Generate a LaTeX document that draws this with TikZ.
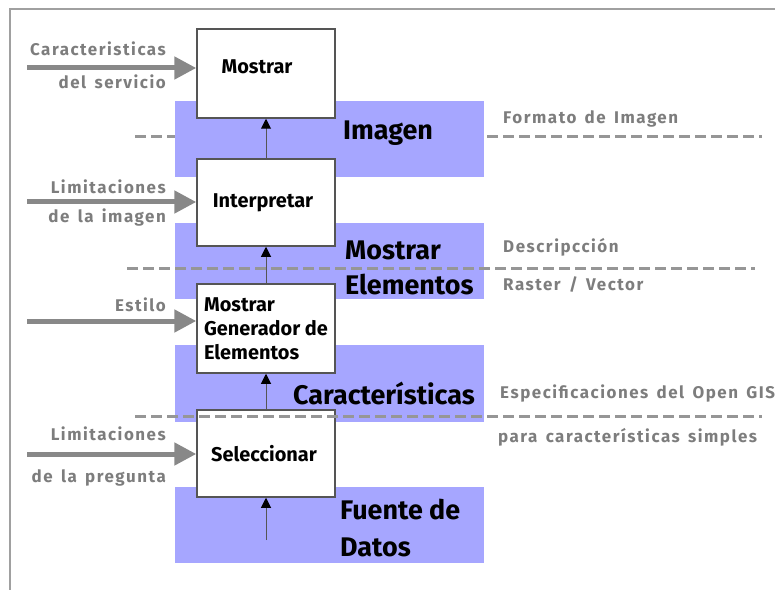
\documentclass[tikz,border=0pt]{standalone}
\usepackage{fontspec}
\setmainfont{Fira Sans}
\newfontfamily\sidefont{Fira Sans}[LetterSpace=9,WordSpace=1.5]
\usetikzlibrary{arrows.meta}
\definecolor{bandblue}{RGB}{166,166,255}
\definecolor{labelgray}{RGB}{125,125,125}
\definecolor{arrowgray}{RGB}{136,136,136}
\definecolor{dashgray}{RGB}{150,150,150}
\definecolor{boxline}{RGB}{85,85,85}
\definecolor{framegray}{RGB}{160,160,160}
\tikzset{
  stagebox/.style={draw=boxline, line width=1.5bp, fill=white, minimum width=138bp, inner sep=0pt, font=\fontsize{20}{24}\selectfont\bfseries, align=left},
  band/.style={fill=bandblue},
  bandlabel/.style={anchor=west, inner sep=0pt, font=\fontsize{27}{30}\selectfont\bfseries},
  sidelabel/.style={inner sep=0pt, text=labelgray, font=\sidefont\fontsize{17}{20}\selectfont\bfseries},
  sepline/.style={draw=dashgray, line width=3bp, dash pattern=on 11bp off 5bp},
  flow/.style={draw=boxline, line width=1bp, -{Triangle[length=10bp,width=10bp,color=black]}},
  inflow/.style={draw=arrowgray, line width=5bp, -{Triangle[length=22bp,width=22bp]}}
}
\begin{document}
\begin{tikzpicture}[x=1bp,y=-1bp]
\useasboundingbox (0,0) rectangle (775,590);
% frame
\draw[framegray, line width=2bp] (775,9) -- (10,9) -- (10,590);
% dashed line behind first band
\coordinate (d1a) at (135,137);
\coordinate (d1b) at (762,137);
\draw[sepline] (d1a) -- (d1b);
% bands
\fill[band] (175,101) rectangle (484,177);
\fill[band] (175,223) rectangle (484,299);
\fill[band] (175,345) rectangle (484,422);
\fill[band] (175,487) rectangle (484,563);
% band labels
\node[bandlabel] (limagen) at (343,133) {Imagen};
\node[bandlabel] (lmostrar) at (345,250) {Mostrar};
\node[bandlabel] (lelem) at (345,285) {Elementos};
\node[bandlabel] (lcarac) at (293,393) {Características};
\node[bandlabel] (lfuente) at (340,510) {Fuente de};
\node[bandlabel] (ldatos) at (340,547) {Datos};
% second dashed line
\coordinate (d2a) at (127,268);
\coordinate (d2b) at (755,268);
\draw[sepline] (d2a) -- (d2b);
% boxes
\node[stagebox, minimum height=89bp] (mostrar) at (266,73.5) {\raisebox{6.5bp}[\height][\depth]{Mostrar}\hspace*{18bp}};
\node[stagebox, minimum height=87bp] (interp) at (266,202.5) {Interpretar\hspace*{6bp}};
\node[stagebox, minimum height=89bp] (gener) at (266,328.5) {Mostrar\\Generador de\\Elementos};
\node[stagebox, minimum height=87bp] (selec) at (266,453.5) {Seleccionar\hspace*{4bp}};
% flow arrows
\coordinate (src) at (266,540);
\draw[flow] (interp.north) -- (mostrar.south);
\draw[flow] (gener.north) -- (interp.south);
\draw[flow] (selec.north) -- (gener.south);
\draw[flow] (src) -- (selec.south);
% input arrows
\coordinate (in1) at (27,68);
\coordinate (in2) at (27,202);
\coordinate (in3) at (27,321);
\coordinate (in4) at (27,454);
\draw[inflow] (in1) -- (in1 -| mostrar.west);
\draw[inflow] (in2) -- (in2 -| interp.west);
\draw[inflow] (in3) -- (in3 -| gener.west);
\draw[inflow] (in4) -- (in4 -| selec.west);
% left labels
\node[sidelabel, anchor=east] (t1a) at (166,49) {Caracteristicas};
\node[sidelabel, anchor=east] (t1b) at (166,82) {del servicio};
\node[sidelabel, anchor=east] (t2a) at (166,187) {Limitaciones};
\node[sidelabel, anchor=east] (t2b) at (166,218) {de la imagen};
\node[sidelabel, anchor=east] (t3a) at (166,305) {Estilo};
\node[sidelabel, anchor=east] (t4a) at (166,434) {Limitaciones};
\node[sidelabel, anchor=east] (t4b) at (166,478) {de la pregunta};
% right labels
\node[sidelabel, anchor=west] (r1) at (503,119) {Formato de Imagen};
\node[sidelabel, anchor=west] (r2) at (503,247) {Descripcción};
\node[sidelabel, anchor=west] (r3) at (503,285) {Raster / Vector};
\node[sidelabel, anchor=west] (r4) at (500,394) {Especificaciones del Open GIS};
\node[sidelabel, anchor=west] (r5) at (498,437) {para características simples};
% third dashed line, on top
\coordinate (d3a) at (135,416);
\coordinate (d3b) at (762,416);
\draw[sepline] (d3a) -- (d3b);
\end{tikzpicture}
\end{document}
